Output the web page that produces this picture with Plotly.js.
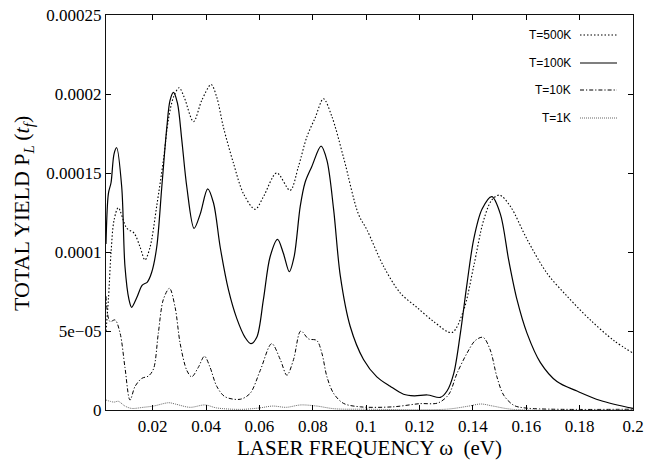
<!DOCTYPE html>
<html>
<head>
<meta charset="utf-8">
<script src="https://cdn.plot.ly/plotly-3.0.1.min.js"></script>
<style>html,body{margin:0;padding:0;background:#fff;}#chart{width:646px;height:461px;}</style>
</head>
<body>
<div id="chart"></div>
<script>
// ---- data (x in eV, y in total yield) ----
const seriesNames = ["T=500K", "T=100K", "T=10K", "T=1K"];

const x500 = [0.0025,0.0034,0.0044,0.0055,0.0071,0.0103,0.013,0.0153,0.0171,0.019,0.0215,0.024,0.0259,0.0278,0.0299,0.0318,0.0353,0.0384,0.0419,0.044,0.0465,0.0503,0.054,0.0584,0.0615,0.0665,0.0715,0.0746,0.0778,0.0809,0.084,0.0871,0.0915,0.0971,0.1003,0.1065,0.1128,0.119,0.1253,0.1321,0.1365,0.1403,0.144,0.1471,0.150,0.154,0.1603,0.1678,0.1753,0.184,0.1928,0.2];
const y500 = [5.0e-5,7.0e-5,10.0e-5,12.0e-5,12.8e-5,11.5e-5,11.2e-5,10.3e-5,9.5e-5,10.3e-5,12.9e-5,15.8e-5,18.4e-5,19.8e-5,20.4e-5,19.8e-5,18.25e-5,19.6e-5,20.6e-5,19.8e-5,17.9e-5,15.6e-5,13.7e-5,12.7e-5,13.5e-5,15.0e-5,13.9e-5,15.4e-5,17.3e-5,18.5e-5,19.7e-5,18.6e-5,16.0e-5,12.4e-5,11.4e-5,9.1e-5,7.4e-5,6.5e-5,5.6e-5,4.9e-5,6.3e-5,9.1e-5,12.0e-5,13.3e-5,13.6e-5,12.9e-5,10.8e-5,8.65e-5,7.2e-5,5.7e-5,4.4e-5,3.6e-5];

const x100 = [0.0025,0.0034,0.0044,0.0055,0.0065,0.0084,0.0096,0.0111,0.0121,0.014,0.0161,0.018,0.0196,0.0215,0.0234,0.0253,0.0265,0.0278,0.0293,0.0309,0.0328,0.0355,0.0378,0.0406,0.0428,0.0453,0.0484,0.0515,0.0546,0.0568,0.059,0.0615,0.064,0.0668,0.069,0.0712,0.073,0.0753,0.0771,0.0796,0.0831,0.0853,0.0878,0.0903,0.094,0.099,0.104,0.109,0.114,0.118,0.123,0.1278,0.1303,0.1328,0.1353,0.1378,0.1403,0.1434,0.1471,0.1503,0.1534,0.1565,0.1603,0.1653,0.1715,0.179,0.1878,0.2];
const y100 = [10.5e-5,13.7e-5,14.4e-5,16.2e-5,16.6e-5,14.1e-5,9.1e-5,7.0e-5,6.5e-5,7.1e-5,7.9e-5,8.1e-5,8.7e-5,10.3e-5,14.1e-5,17.9e-5,19.6e-5,20.1e-5,19.4e-5,17.1e-5,14.1e-5,11.5e-5,12.4e-5,14.0e-5,13.1e-5,10.3e-5,7.6e-5,5.8e-5,4.6e-5,4.2e-5,4.6e-5,7.0e-5,9.7e-5,10.8e-5,9.9e-5,8.75e-5,9.7e-5,12.9e-5,14.4e-5,15.4e-5,16.7e-5,15.8e-5,12.7e-5,8.5e-5,5.3e-5,3.2e-5,2.1e-5,1.5e-5,1.0e-5,0.9e-5,0.95e-5,0.8e-5,1.2e-5,2.3e-5,4.85e-5,8.0e-5,10.8e-5,12.7e-5,13.5e-5,12.4e-5,9.5e-5,7.0e-5,4.85e-5,3.0e-5,1.8e-5,1.2e-5,0.6e-5,0.1e-5];

const x10 = [0.0025,0.004,0.0059,0.0078,0.0096,0.0115,0.0134,0.0159,0.0184,0.0203,0.0221,0.024,0.0263,0.0284,0.0303,0.0328,0.0346,0.0371,0.0394,0.0415,0.044,0.0471,0.0528,0.0565,0.0603,0.0646,0.0678,0.0703,0.0728,0.0755,0.0784,0.0815,0.0834,0.0853,0.0878,0.0915,0.0978,0.11,0.12,0.127,0.131,0.134,0.1378,0.1409,0.1438,0.1465,0.149,0.1515,0.1553,0.16,0.2];
const y10 = [7.2e-5,5.6e-5,5.7e-5,4.85e-5,2.7e-5,0.63e-5,1.5e-5,2.0e-5,2.15e-5,2.6e-5,4.85e-5,7.0e-5,7.7e-5,6.5e-5,4.2e-5,2.5e-5,2.1e-5,2.7e-5,3.4e-5,2.7e-5,1.5e-5,0.84e-5,0.68e-5,1.05e-5,2.5e-5,4.2e-5,3.2e-5,2.2e-5,3.2e-5,5.0e-5,4.5e-5,4.4e-5,3.6e-5,2.1e-5,1.05e-5,0.42e-5,0.2e-5,0.2e-5,0.4e-5,0.45e-5,1.0e-5,2.3e-5,3.6e-5,4.4e-5,4.6e-5,3.8e-5,2.1e-5,0.95e-5,0.3e-5,0.12e-5,0.05e-5];

const x1 = [0.0025,0.0055,0.0071,0.0096,0.0121,0.0165,0.0203,0.026,0.0284,0.034,0.0396,0.044,0.053,0.06,0.065,0.07,0.0755,0.0815,0.088,0.1,0.13,0.1385,0.143,0.1475,0.155,0.2];
const y1 = [0.63e-5,0.5e-5,0.55e-5,0.25e-5,0.1e-5,0.17e-5,0.25e-5,0.46e-5,0.38e-5,0.17e-5,0.32e-5,0.13e-5,0.04e-5,0.13e-5,0.25e-5,0.17e-5,0.32e-5,0.25e-5,0.08e-5,0.05e-5,0.05e-5,0.25e-5,0.38e-5,0.25e-5,0.04e-5,0.02e-5];

const xTickVals = [0.02,0.04,0.06,0.08,0.1,0.12,0.14,0.16,0.18,0.2];
const xTickText = ["0.02","0.04","0.06","0.08","0.1","0.12","0.14","0.16","0.18","0.2"];
const yTickVals = [0,0.00005,0.0001,0.00015,0.0002,0.00025];
const yTickText = ["0","5e\u221205","0.0001","0.00015","0.0002","0.00025"];

const xTitle = "LASER FREQUENCY \u03c9\u00a0\u00a0(eV)";
const subStyle = "font-style:italic;font-size:15px;baseline-shift:-5px";
const yTitle = "TOTAL YIELD P<span style=\"" + subStyle + "\">L</span>\u2009(<span style=\"font-style:italic;font-size:22px\">t</span><span style=\"" + subStyle + "\">f</span>)";

// ---- styling ----
const styles = [
  {color:"#000", width:1.1, dash:"1.5px,2px"},
  {color:"#000", width:1.2, dash:"solid"},
  {color:"#000", width:1, dash:"4px,2px,1.2px,2px"},
  {color:"#666", width:1, dash:"1px,1px"}
];
const xs = [x500, x100, x10, x1];
const ys = [y500, y100, y10, y1];

const traces = xs.map((xx, i) => ({
  x: xx, y: ys[i], type: "scatter", mode: "lines", name: seriesNames[i],
  line: {color: styles[i].color, width: styles[i].width, dash: styles[i].dash, shape: "spline", smoothing: 0.9},
  showlegend: false, hoverinfo: "skip"
}));

// manual legend (text left of sample, as in reference)
const plotL = 106, plotR = 633, plotT = 15, plotB = 410;
const px = X => (X - plotL) / (plotR - plotL);
const py = Y => (plotB - Y) / (plotB - plotT);
const legendY = [35, 63, 90, 118];
const annotations = seriesNames.map((n, i) => ({
  xref: "paper", yref: "paper", x: px(573), y: py(legendY[i]),
  xanchor: "right", yanchor: "middle", text: n, showarrow: false,
  font: {family: "Liberation Sans, Arial, sans-serif", size: 12, color: "#000"}
}));
const serif = "Liberation Serif, Times New Roman, serif";
annotations.push({
  xref: "paper", yref: "paper", x: px(23), y: py(214),
  xanchor: "center", yanchor: "middle", textangle: -90, showarrow: false,
  text: yTitle, font: {family: serif, size: 22, color: "#000"}
});
const shapes = seriesNames.map((n, i) => ({
  type: "line", xref: "paper", yref: "paper",
  x0: px(580), x1: px(617), y0: py(legendY[i]), y1: py(legendY[i]),
  line: {color: styles[i].color, width: styles[i].width, dash: styles[i].dash}
}));

const layout = {
  width: 646, height: 461,
  margin: {l: plotL, r: 646 - plotR, t: plotT, b: 461 - plotB},
  paper_bgcolor: "#fff", plot_bgcolor: "#fff",
  showlegend: false,
  xaxis: {
    range: [0.0025, 0.2], tickvals: xTickVals, ticktext: xTickText,
    ticks: "inside", ticklen: 5, tickcolor: "#000", tickwidth: 1,
    showline: true, linecolor: "#111", linewidth: 1.2, mirror: "ticks",
    showgrid: false, zeroline: false,
    tickfont: {family: serif, size: 17, color: "#000"},
    title: {text: xTitle, font: {family: serif, size: 21, color: "#000"}, standoff: 5}
  },
  yaxis: {
    range: [0, 0.00025], tickvals: yTickVals, ticktext: yTickText,
    ticks: "inside", ticklen: 5, tickcolor: "#000", tickwidth: 1,
    showline: true, linecolor: "#111", linewidth: 1.2, mirror: "ticks",
    showgrid: false, zeroline: false,
    tickfont: {family: serif, size: 17, color: "#000"}
  },
  annotations: annotations,
  shapes: shapes
};

Plotly.newPlot("chart", traces, layout, {staticPlot: true, displayModeBar: false});
</script>
</body>
</html>
